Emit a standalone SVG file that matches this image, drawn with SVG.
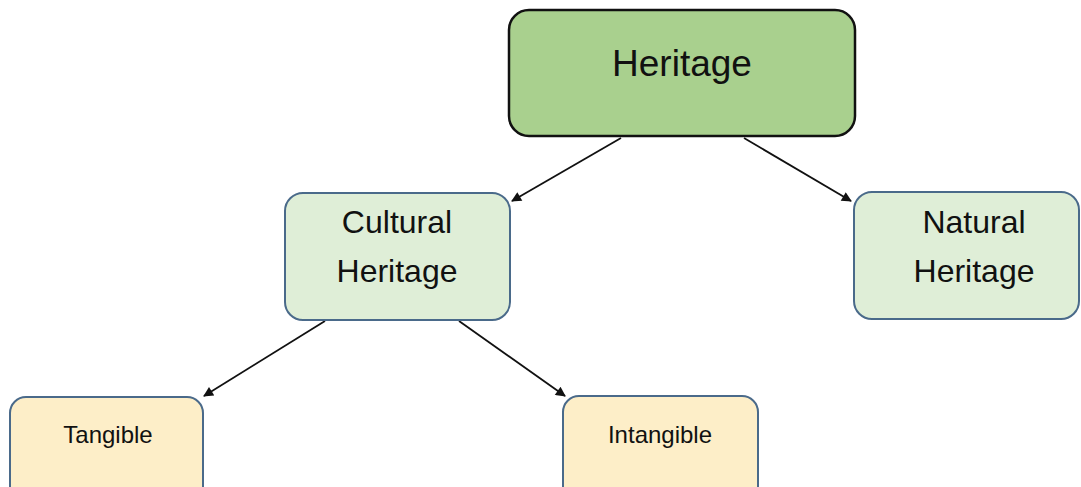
<svg xmlns="http://www.w3.org/2000/svg" width="1081" height="487" viewBox="0 0 1081 487">
<style>
.t{font-family:"Liberation Sans",Arial,sans-serif;fill:#111;text-anchor:middle}
.g{fill:#dfeed7;stroke:#4a6a8a;stroke-width:2}
.y{fill:#fdeec8;stroke:#4a6a8a;stroke-width:2}
.c{stroke:#111;stroke-width:1.8;fill:none;marker-end:url(#ah)}
</style>
<defs>
<marker id="ah" viewBox="0 0 10 10" refX="9" refY="5" markerWidth="12" markerHeight="10" markerUnits="userSpaceOnUse" orient="auto"><path d="M0,0 L10,5 L0,10 z" fill="#111"/></marker>
</defs>
<rect width="1081" height="487" fill="#fff"/>
<g id="connectors">
<line class="c" x1="621" y1="138" x2="512" y2="201"/>
<line class="c" x1="744" y1="138" x2="851" y2="201"/>
<line class="c" x1="325" y1="321" x2="204" y2="396"/>
<line class="c" x1="459" y1="321" x2="565" y2="396"/>
</g>
<g id="heritage">
<rect x="509" y="10" width="346" height="126" rx="20" fill="#a9d08e" stroke="#111" stroke-width="2.5"/>
<text class="t" x="682" y="76" font-size="37">Heritage</text>
</g>
<g id="cultural">
<rect class="g" x="285" y="193" width="225" height="127" rx="18"/>
<text class="t" x="397" y="233" font-size="32">Cultural</text>
<text class="t" x="397" y="282" font-size="32">Heritage</text>
</g>
<g id="natural">
<rect class="g" x="854" y="192" width="225" height="127" rx="18"/>
<text class="t" x="974" y="233" font-size="32">Natural</text>
<text class="t" x="974" y="282" font-size="32">Heritage</text>
</g>
<g id="tangible">
<rect class="y" x="10" y="397" width="193" height="110" rx="16"/>
<text class="t" x="108" y="443" font-size="24">Tangible</text>
</g>
<g id="intangible">
<rect class="y" x="563" y="396" width="195" height="110" rx="16"/>
<text class="t" x="660" y="443" font-size="24">Intangible</text>
</g>
</svg>
